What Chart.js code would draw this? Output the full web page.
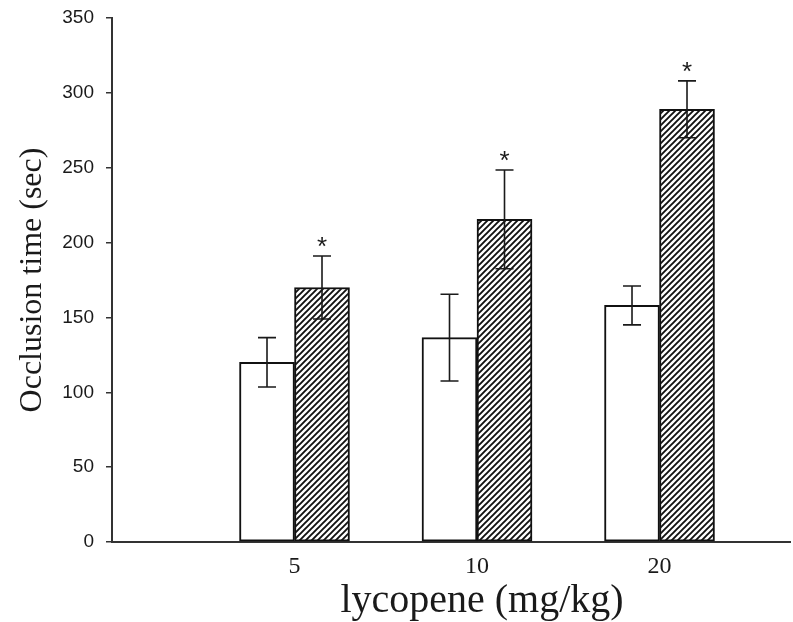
<!DOCTYPE html>
<html>
<head>
<meta charset="utf-8">
<script src="https://cdn.jsdelivr.net/npm/chart.js@4.4.1/dist/chart.umd.min.js"></script>
<style>
  html, body { margin: 0; padding: 0; background: #fff; }
  #wrap { width: 793px; height: 622px; }
</style>
</head>
<body>
<div id="wrap"><canvas id="c" width="793" height="622"></canvas></div>
<script>
// ---- data ----
const doseLabels = ['5', '10', '20'];
const controlMeans = [120, 136.5, 158];
const controlErrs = [16.5, 29, 13];
const lycopeneMeans = [170, 215.5, 289];
const lycopeneErrs = [21, 33, 19];
const significant = [true, true, true];
const yTicks = [0, 50, 100, 150, 200, 250, 300, 350];
const xTitle = 'lycopene (mg/kg)';
const yTitle = 'Occlusion time (sec)';

// ---- hatch pattern ----
function makeHatch() {
  const s = 6;
  const cv = document.createElement('canvas');
  cv.width = s; cv.height = s;
  const g = cv.getContext('2d');
  g.fillStyle = '#fff';
  g.fillRect(0, 0, s, s);
  g.strokeStyle = '#111';
  g.lineWidth = 1.9;
  g.lineCap = 'square';
  g.beginPath();
  g.moveTo(0, s); g.lineTo(s, 0);
  g.moveTo(-1, 1); g.lineTo(1, -1);
  g.moveTo(s - 1, s + 1); g.lineTo(s + 1, s - 1);
  g.stroke();
  return g.createPattern(cv, 'repeat');
}

const ctx = document.getElementById('c').getContext('2d');
const hatch = makeHatch();

const toPoints = (vals) => vals.map((v, i) => ({ x: i + 1, y: v }));

const errorBars = {
  id: 'errorBars',
  afterDatasetsDraw(chart) {
    const c = chart.ctx;
    const ys = chart.scales.y;
    const sets = [[controlMeans, controlErrs], [lycopeneMeans, lycopeneErrs]];
    c.save();
    c.strokeStyle = '#1a1a1a';
    c.lineWidth = 1.6;
    sets.forEach((pair, di) => {
      const meta = chart.getDatasetMeta(di);
      meta.data.forEach((el, j) => {
        const x = el.x;
        const top = ys.getPixelForValue(pair[0][j] + pair[1][j]);
        const bot = ys.getPixelForValue(pair[0][j] - pair[1][j]);
        const cap = 9;
        c.beginPath();
        c.moveTo(x, top); c.lineTo(x, bot);
        c.moveTo(x - cap, top); c.lineTo(x + cap, top);
        c.moveTo(x - cap, bot); c.lineTo(x + cap, bot);
        c.stroke();
        if (di === 1 && significant[j]) {
          c.fillStyle = '#1a1a1a';
          c.font = '26px "Liberation Sans", Arial, sans-serif';
          c.textAlign = 'center';
          c.textBaseline = 'alphabetic';
          c.fillText('*', x, top - 1);
        }
      });
    });
    c.restore();
  },
  afterDraw(chart) {
    const c = chart.ctx;
    const a = chart.chartArea;
    c.save();
    c.fillStyle = '#1a1a1a';
    c.textAlign = 'center';
    c.textBaseline = 'alphabetic';
    c.font = '40px "Liberation Serif", "Times New Roman", serif';
    c.fillText(xTitle, 482, 612);
    c.translate(41, (a.top + a.bottom) / 2);
    c.rotate(-Math.PI / 2);
    c.font = '32px "Liberation Serif", "Times New Roman", serif';
    c.fillText(yTitle, 0, 0);
    c.restore();
  }
};

new Chart(ctx, {
  type: 'bar',
  data: {
    datasets: [
      {
        label: 'control',
        data: toPoints(controlMeans),
        backgroundColor: '#ffffff',
        borderColor: '#111',
        borderWidth: 2,
        borderSkipped: false,
        barThickness: 55
      },
      {
        label: 'lycopene',
        data: toPoints(lycopeneMeans),
        backgroundColor: hatch,
        borderColor: '#111',
        borderWidth: 2,
        borderSkipped: false,
        barThickness: 55
      }
    ]
  },
  options: {
    responsive: false,
    animation: false,
    devicePixelRatio: 1,
    layout: { padding: { top: 18, right: 3, left: 0, bottom: 0 } },
    plugins: { legend: { display: false }, tooltip: { enabled: false } },
    scales: {
      x: {
        type: 'linear',
        offset: false,
        bounds: 'data',
        min: 0,
        max: 3.715,
        afterBuildTicks(scale) {
          scale.ticks = doseLabels.map((_, i) => ({ value: i + 1 }));
        },
        afterFit(scale) { scale.height = 80; scale.paddingLeft = 0; scale.paddingRight = 0; },
        grid: { display: false, drawTicks: false },
        border: { display: true, color: '#333', width: 2 },
        ticks: {
          autoSkip: false,
          maxRotation: 0,
          padding: 10,
          color: '#1a1a1a',
          font: { family: '"Liberation Serif", "Times New Roman", serif', size: 24 },
          callback: (v, i) => doseLabels[i]
        }
      },
      y: {
        min: 0,
        max: 350,
        afterBuildTicks(scale) {
          scale.ticks = yTicks.map(v => ({ value: v }));
        },
        afterFit(scale) { scale.width = 112; scale.paddingTop = 0; scale.paddingBottom = 0; },
        grid: { drawOnChartArea: false, drawTicks: true, tickLength: 6, color: '#333', lineWidth: 1.5 },
        border: { display: true, color: '#333', width: 2 },
        ticks: {
          padding: 12,
          color: '#1a1a1a',
          font: { family: '"Liberation Sans", Arial, sans-serif', size: 19 }
        }
      }
    }
  },
  plugins: [errorBars]
});
</script>
</body>
</html>
